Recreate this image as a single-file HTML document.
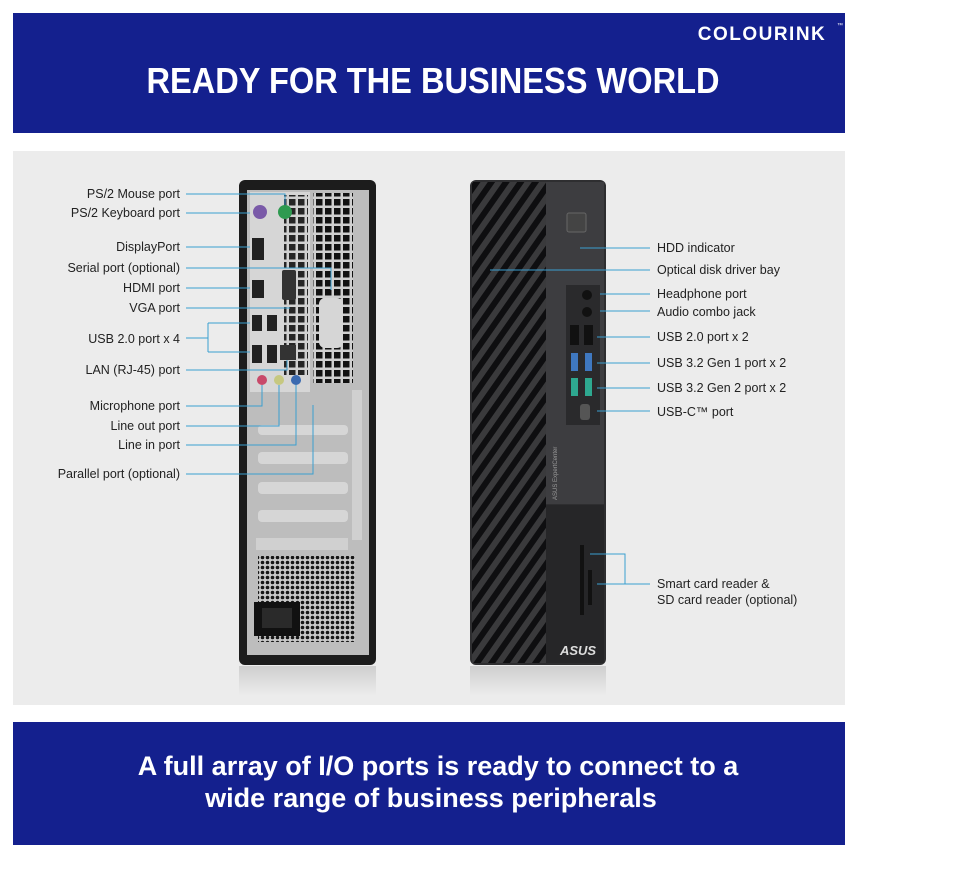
<!DOCTYPE html>
<html><head><meta charset="utf-8"><style>
html,body{margin:0;padding:0;background:#fff;}
svg{display:block;}
text{font-family:"Liberation Sans",sans-serif;}
</style></head><body>
<svg width="960" height="896" viewBox="0 0 960 896" xmlns="http://www.w3.org/2000/svg">
<defs>
<pattern id="stripes" width="12" height="12" patternUnits="userSpaceOnUse" patternTransform="rotate(35)">
<rect width="12" height="12" fill="#3a3a3c"/><rect width="6" height="12" fill="#0e0e10"/>
</pattern>
<pattern id="grill" width="5" height="5" patternUnits="userSpaceOnUse">
<rect width="5" height="5" fill="#c9c9c9"/><circle cx="2.5" cy="2.5" r="1.8" fill="#151515"/>
</pattern>
<pattern id="vent" width="9" height="9" patternUnits="userSpaceOnUse">
<rect width="9" height="9" fill="#cfcfcf"/><rect x="1" y="1" width="6.5" height="6.5" fill="#111"/>
</pattern>
<linearGradient id="refl" x1="0" y1="0" x2="0" y2="1"><stop offset="0" stop-color="#bbb"/><stop offset="1" stop-color="#ececec"/></linearGradient>
</defs>
<rect x="13" y="13" width="832" height="120" fill="#14208e"/>
<text x="762" y="40" font-size="19" font-weight="bold" fill="#fff" text-anchor="middle" letter-spacing="1.5">COLOURINK</text>
<text x="837" y="27" font-size="6" fill="#fff">™</text>
<text x="433" y="93" font-size="36" font-weight="bold" fill="#fff" text-anchor="middle" textLength="573" lengthAdjust="spacingAndGlyphs">READY FOR THE BUSINESS WORLD</text>

<rect x="13" y="151" width="832" height="554" fill="#ececec"/>

<rect x="239" y="666" width="137" height="30" fill="url(#refl)" opacity="0.6"/>
<rect x="470" y="666" width="136" height="30" fill="url(#refl)" opacity="0.6"/>
<rect x="239" y="180" width="137" height="485" rx="6" fill="#1c1c1c"/>
<rect x="247" y="190" width="122" height="465" fill="#bdbdbd"/>
<rect x="250" y="192" width="60" height="200" fill="#d6d6d6"/>
<rect x="313" y="193" width="40" height="190" fill="url(#vent)"/>
<rect x="284" y="195" width="24" height="180" fill="url(#vent)" opacity="0.9"/>
<rect x="255" y="198" width="28" height="30" fill="#d6d6d6"/>
<circle cx="260" cy="212" r="7" fill="#7a5aa8"/><circle cx="285" cy="212" r="7" fill="#2e9a50"/>
<rect x="252" y="238" width="12" height="22" fill="#222"/>
<rect x="252" y="280" width="12" height="18" fill="#222"/>
<rect x="282" y="270" width="14" height="30" rx="2" fill="#333"/>
<rect x="252" y="315" width="10" height="16" fill="#222"/><rect x="267" y="315" width="10" height="16" fill="#222"/>
<rect x="252" y="345" width="10" height="18" fill="#222"/><rect x="267" y="345" width="10" height="18" fill="#222"/>
<rect x="280" y="345" width="16" height="15" fill="#333"/>
<circle cx="262" cy="380" r="5" fill="#c84a6a"/><circle cx="279" cy="380" r="5" fill="#c6c880"/><circle cx="296" cy="380" r="5" fill="#3a6ab0"/>
<rect x="319" y="298" width="24" height="50" rx="6" fill="#d6d6d6"/>
<rect x="258" y="425" width="90" height="10" rx="4" fill="#d6d6d6"/>
<rect x="258" y="452" width="90" height="12" rx="4" fill="#d6d6d6"/>
<rect x="258" y="482" width="90" height="12" rx="4" fill="#d6d6d6"/>
<rect x="258" y="510" width="90" height="12" rx="4" fill="#d6d6d6"/>
<rect x="256" y="538" width="92" height="12" fill="#d0d0d0"/>
<rect x="352" y="390" width="10" height="150" fill="#d0d0d0"/>
<rect x="258" y="556" width="97" height="86" fill="url(#grill)"/>
<rect x="254" y="602" width="46" height="34" fill="#111"/>
<rect x="262" y="608" width="30" height="20" fill="#2a2a2a"/>

<rect x="470" y="180" width="136" height="485" rx="6" fill="#2e2e30"/>
<rect x="472" y="182" width="74" height="481" fill="url(#stripes)"/>
<rect x="546" y="182" width="58" height="322" fill="#3d3d40"/>
<rect x="546" y="505" width="58" height="158" fill="#262628"/>
<rect x="567" y="213" width="19" height="19" rx="2" fill="#444" stroke="#666"/>
<rect x="566" y="285" width="34" height="140" fill="#2a2a2c"/>
<circle cx="587" cy="295" r="5" fill="#111"/><circle cx="587" cy="312" r="5" fill="#111"/>
<rect x="570" y="325" width="9" height="20" fill="#111"/><rect x="584" y="325" width="9" height="20" fill="#111"/>
<rect x="571" y="353" width="7" height="18" fill="#3f78c0"/><rect x="585" y="353" width="7" height="18" fill="#3f78c0"/>
<rect x="571" y="378" width="7" height="18" fill="#2ea890"/><rect x="585" y="378" width="7" height="18" fill="#2ea890"/>
<rect x="580" y="404" width="10" height="16" rx="3" fill="#555"/>
<rect x="580" y="545" width="4" height="70" fill="#111"/>
<rect x="588" y="570" width="4" height="35" fill="#111"/>
<text x="578" y="655" font-size="13" font-weight="bold" font-style="italic" fill="#ddd" text-anchor="middle">ASUS</text>
<text transform="translate(557,500) rotate(-90)" font-size="6" fill="#999">ASUS ExpertCenter</text>

<g stroke="#3a9fd0" stroke-width="1" fill="none">
<path d="M186 194H285V205"/><path d="M186 213H250"/><path d="M186 247H250"/>
<path d="M186 268H331V290"/><path d="M186 288H250"/><path d="M186 308H290"/>
<path d="M186 338H208M208 323V352M208 323H250M208 352H250"/>
<path d="M186 370H287V360"/><path d="M186 406H262V385"/><path d="M186 426H279V385"/>
<path d="M186 445H296V385"/><path d="M186 474H313V405"/>
<path d="M580 248H650"/><path d="M490 270H650"/><path d="M600 294H650"/><path d="M600 311H650"/>
<path d="M597 337H650"/><path d="M597 363H650"/><path d="M597 388H650"/><path d="M597 411H650"/>
<path d="M590 554H625V584H650M597 584H625"/>
</g>
<g fill="#222" font-size="12.5" text-anchor="end">
<text x="180" y="198">PS/2 Mouse port</text><text x="180" y="217">PS/2 Keyboard port</text>
<text x="180" y="251">DisplayPort</text><text x="180" y="272">Serial port (optional)</text>
<text x="180" y="292">HDMI port</text><text x="180" y="312">VGA port</text>
<text x="180" y="343">USB 2.0 port x 4</text><text x="180" y="374">LAN (RJ-45) port</text>
<text x="180" y="410">Microphone port</text><text x="180" y="430">Line out port</text>
<text x="180" y="449">Line in port</text><text x="180" y="478">Parallel port (optional)</text>
</g>
<g fill="#222" font-size="12.5">
<text x="657" y="252">HDD indicator</text><text x="657" y="274">Optical disk driver bay</text>
<text x="657" y="298">Headphone port</text><text x="657" y="316">Audio combo jack</text>
<text x="657" y="341">USB 2.0 port x 2</text><text x="657" y="367">USB 3.2 Gen 1 port x 2</text>
<text x="657" y="392">USB 3.2 Gen 2 port x 2</text><text x="657" y="416">USB-C™ port</text>
<text x="657" y="588">Smart card reader  &amp;</text><text x="657" y="604">SD card reader (optional)</text>
</g>

<rect x="13" y="722" width="832" height="123" fill="#14208e"/>
<g fill="#fff" font-size="27" font-weight="bold" text-anchor="middle">
<text x="438" y="775">A full array of I/O ports is ready to connect to a</text>
<text x="431" y="807">wide range of business peripherals</text>
</g>
</svg>
</body></html>
